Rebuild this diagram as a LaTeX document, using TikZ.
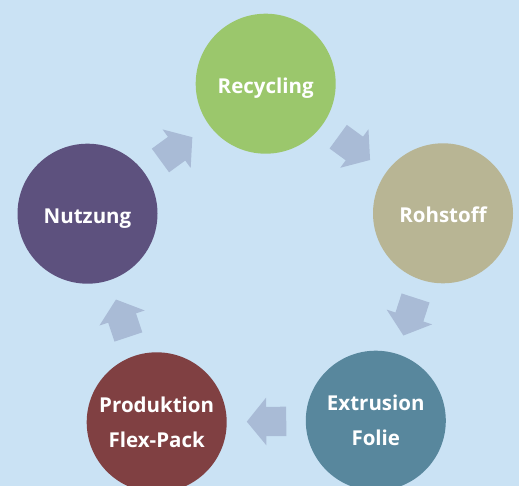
\documentclass[tikz,border=0pt]{standalone}
\usepackage{fontspec}
\setmainfont{Open Sans}
\usetikzlibrary{calc,arrows.meta}

\definecolor{bgblue}{HTML}{CAE2F4}
\definecolor{flowblue}{HTML}{A9BBD6}
\definecolor{recgreen}{HTML}{9BC76C}
\definecolor{rohtan}{HTML}{B8B594}
\definecolor{extteal}{HTML}{58879D}
\definecolor{promaroon}{HTML}{804042}
\definecolor{nutpurple}{HTML}{5D517E}

\tikzset{
  stage/.style={circle,minimum size=140pt,inner sep=0pt,text=white,align=center,
    font=\fontsize{20.5}{35}\selectfont\bfseries},
  oneline/.style={text height=19pt,text depth=0pt},
  flow/.style={flowblue,line width=29.3pt,-{Triangle[length=19.5pt,width=46.7pt]}}
}

\begin{document}
\begin{tikzpicture}[x=1pt,y=-1pt]
    \fill[bgblue] (0,0) rectangle (519,486);
    \useasboundingbox (0,0) rectangle (519,486);
    \clip (0,0) rectangle (519,486);
    % the five stages
    \node[stage,oneline,fill=recgreen] (rec) at (265.7,83.7) {Recycling};
    \node[stage,oneline,fill=rohtan] (roh) at (443,213.3) {Rohstoff};
    \node[stage,fill=extteal] (ext) at (375.8,420.7) {Extrusion\\Folie};
    \node[stage,fill=promaroon] (pro) at (156.7,422.3) {Produktion\\Flex-Pack};
    \node[stage,oneline,fill=nutpurple] (nut) at (87.5,213.7) {Nutzung};
    % arrows between them
    \foreach \a/\b in {rec/roh,roh/ext,ext/pro,pro/nut,nut/rec}{
      \coordinate (m\a) at ($(\a)!0.5!(\b)$);
      \draw[flow] ($(m\a)!20pt!(\a)$) -- ($(m\a)!19.5pt!(\b)$);
    }
  \end{tikzpicture}
\end{document}
